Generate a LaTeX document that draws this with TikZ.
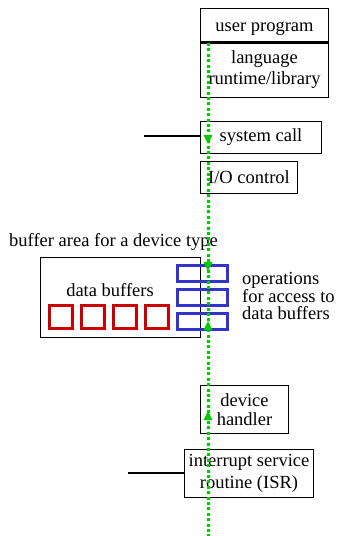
\documentclass[tikz,border=0pt]{standalone}
\usepackage{fontspec}
\setmainfont{Liberation Serif}
\usetikzlibrary{arrows.meta}
\definecolor{flowgreen}{RGB}{0,204,0}
\definecolor{bufred}{RGB}{204,0,0}
\definecolor{opblue}{RGB}{51,51,204}
\begin{document}
\begin{tikzpicture}[x=1pt,y=-1pt,
  box/.style={draw=black, line width=1pt, fill=white, inner sep=0pt,
    align=center, anchor=north west, font=\fontsize{18.5}{21.5}\selectfont},
  lbl/.style={inner sep=0pt, font=\fontsize{18.5}{19}\selectfont},
  bufbox/.style={draw=bufred, line width=2.8pt},
  opbox/.style={draw=opblue, line width=2.8pt},
  flow/.style={draw=flowgreen, line width=3pt, dash pattern=on 3pt off 2.4pt},
]
\useasboundingbox (0,0) rectangle (338,536);

% layered software stack
\node[box, minimum width=128, minimum height=33] (user) at (200,8)
  {\raisebox{-6.5pt}[0pt][0pt]{user program}};
\node[box, minimum width=128, minimum height=56] (lib) at (200,41) {language\\runtime/library};
\draw[line width=3pt] (user.south west) -- (user.south east);

\node[box, minimum width=121, minimum height=32] (sys) at (200,121) {system call};
\node[box, minimum width=97, minimum height=32] (ioc) at (200,161) {I/O control};

% buffer area
\node[lbl, anchor=west] (area) at (9,242) {buffer area for a device type};
\node[draw=black, line width=1pt, minimum width=160, minimum height=80,
  anchor=north west, inner sep=0pt] (buf) at (40,257) {};
\node[lbl] (dbuf) at (110,290) {data buffers};
\foreach \x/\n in {48/1,80/2,112/3,144/4}
  \node[bufbox, minimum width=23, minimum height=23, anchor=north west,
    inner sep=0pt] (r\n) at (\x,304) {};
\foreach \y/\n in {264/1,288/2,312/3}
  \node[opbox, minimum width=50, minimum height=16, anchor=north west,
    inner sep=0pt] (o\n) at (176,\y) {};
\node[lbl, align=left, anchor=west, font=\fontsize{18.5}{17.7}\selectfont]
  (ops) at (242,296) {operations\\for access to\\data buffers};

% driver level
\node[box, minimum width=88, minimum height=48,
  font=\fontsize{18.5}{18.5}\selectfont] (dev) at (200,385) {device\\handler};
\node[box, minimum width=129, minimum height=48] (isr) at (184,449) {interrupt service\\routine (ISR)};

% external connections
\coordinate (sysin) at (144,136);
\coordinate (isrin) at (128,473);
\draw[line width=1.5pt] (sysin) -- (sys.west |- sysin);
\draw[line width=1.5pt] (isrin) -- (isr.west |- isrin);

% control flow through the stack
\coordinate (ftop) at (208,43);
\coordinate (fbot) at (208,536);
\draw[flow] (ftop) -- (fbot);
\foreach \y in {144,271}
  \fill[flowgreen] (208,\y) -- (203.5,\y-9) -- (212.5,\y-9) -- cycle;
\foreach \y in {321,411}
  \fill[flowgreen] (208,\y) -- (203.5,\y+9) -- (212.5,\y+9) -- cycle;
\end{tikzpicture}
\end{document}
